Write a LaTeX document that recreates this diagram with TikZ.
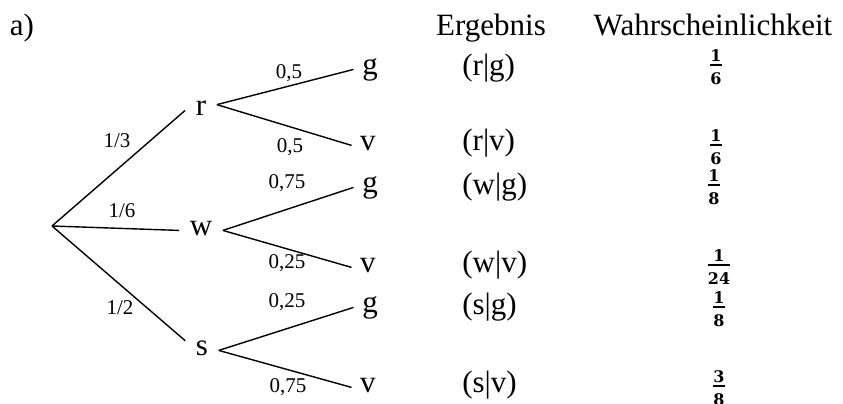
\documentclass[tikz,border=0pt]{standalone}
\usepackage{amsmath}
\usepackage{fontspec}
\setmainfont{Liberation Serif}
\newfontfamily\fracfont{DejaVu Serif}
\newcommand{\wk}[2]{{\fontsize{8}{9}\selectfont$\genfrac{}{}{1.2pt}{1}{\mbox{\fracfont\bfseries #1}}{\mbox{\fracfont\bfseries\rule{0pt}{7.8pt}#2}}$}}

\begin{document}
\begin{tikzpicture}[x=0.5pt, y=-0.5pt, line width=0.7pt,
                    every node/.style={anchor=base, font=\fontsize{15.5}{18}\selectfont},
                    stage/.style={inner xsep=5pt, text height=1ex, text depth=0pt},
                    leaf/.style={inner xsep=4pt, text height=1ex, text depth=0pt},
                    prob/.style={font=\fontsize{10.5}{12}\selectfont},
                    result/.style={anchor=base west}
                ]
                \useasboundingbox (0,0) rectangle (843,403);
                \node (a) at (22,35) {a)};
                \node (erg) at (491,35) {Ergebnis};
                \node (wahr) at (713,35) {Wahrscheinlichkeit};
                % stufe 1
                \coordinate (root) at (52,226);
                \node[stage] (r) at (201,115) {r};
                \node[stage] (w) at (201,235) {w};
                \node[stage] (s) at (202,355) {s};
                % stufe 2
                \node[leaf] (rg) at (370,74) {g};
                \node[leaf] (rv) at (368,150) {v};
                \node[leaf] (wg) at (370,192) {g};
                \node[leaf] (wv) at (368,272) {v};
                \node[leaf] (sg) at (370,312) {g};
                \node[leaf] (sv) at (368,392) {v};
                \draw (root) -- (r.west);
                \draw (root) -- (w.west);
                \draw (root) -- (s.150);
                \draw (r.20) -- (rg.west);
                \draw (r.20) -- (rv.west);
                \draw (w.east) -- (wg.west);
                \draw (w.east) -- (wv.west);
                \draw (s.east) -- (sg.west);
                \draw (s.east) -- (sv.west);
                % pfadwahrscheinlichkeiten
                \node[prob] (pr) at (117,147) {1/3};
                \node[prob] (pw) at (122,217) {1/6};
                \node[prob] (ps) at (120,314) {1/2};
                \node[prob] (prg) at (289,78) {0,5};
                \node[prob] (prv) at (290,152) {0,5};
                \node[prob] (pwg) at (287,188) {0,75};
                \node[prob] (pwv) at (287,268) {0,25};
                \node[prob] (psg) at (287,307) {0,25};
                \node[prob] (psv) at (288,392) {0,75};
                % ergebnisse
                \node[result] (erg1) at (455,75) {(r|g)};
                \node[result] (erg2) at (455,150) {(r|v)};
                \node[result] (erg3) at (455,194) {(w|g)};
                \node[result] (erg4) at (455,272) {(w|v)};
                \node[result] (erg5) at (455,314) {(s|g)};
                \node[result] (erg6) at (455,392) {(s|v)};
                \node (wk1) at (716,69) {\wk{1}{6}};
                \node (wk2) at (716,149) {\wk{1}{6}};
                \node (wk3) at (714,189) {\wk{1}{8}};
                \node (wk4) at (719,269) {\wk{1}{24}};
                \node (wk5) at (719,311) {\wk{1}{8}};
                \node (wk6) at (719,390) {\wk{3}{8}};
\end{tikzpicture}
\end{document}
